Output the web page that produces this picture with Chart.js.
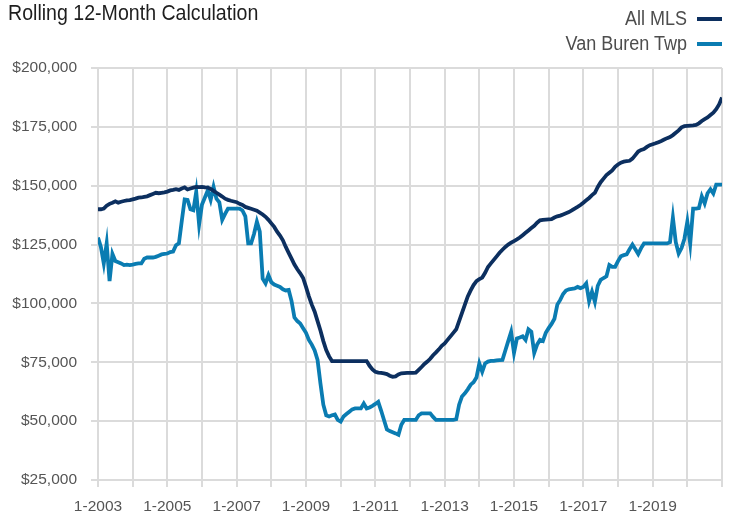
<!DOCTYPE html>
<html>
<head>
<meta charset="utf-8">
<script src="https://cdn.jsdelivr.net/npm/chart.js@4/dist/chart.umd.min.js"></script>
<style>
  html, body { margin: 0; padding: 0; background: #fff; }
  #wrap { position: relative; width: 732px; height: 515px; font-family: "Liberation Sans", Arial, sans-serif; }
  #title { position: absolute; left: 8px; top: 0px; font-size: 22px; color: #1e1e1e; white-space: nowrap; transform: scaleX(0.89); transform-origin: left center; }
  .legend-row { position: absolute; right: 10px; font-size: 20px; color: #4d4d4d; white-space: nowrap; display: flex; align-items: center; }
  .legend-row .lbl { display: inline-block; transform: scaleX(0.9); transform-origin: right center; }
  .legend-row .swatch { display: inline-block; width: 25px; height: 4px; margin-left: 10px; }
  canvas { position: absolute; left: 0; top: 0; }
</style>
</head>
<body>
<div id="wrap">
  <canvas id="chart" width="732" height="515"></canvas>
  <div id="title">Rolling 12-Month Calculation</div>
  <div class="legend-row" id="leg0" style="top: 7px;"><span class="lbl"></span><span class="swatch"></span></div>
  <div class="legend-row" id="leg1" style="top: 32px;"><span class="lbl"></span><span class="swatch"></span></div>
</div>
<script>
// monthly rolling 12-month median price, in $ thousands, 1-2003 .. 1-2021
const allMls = [
  140.0, 140.0, 140.3, 141.5, 142.3, 142.8, 143.4, 142.8, 143.2, 143.5, 143.8, 143.9,
  144.2, 144.5, 144.9, 145.0, 145.3, 145.5, 146.0, 146.5, 147.0, 146.8, 147.0, 147.2,
  147.5, 148.0, 148.2, 148.5, 148.2, 148.8, 149.3, 148.4, 148.8, 149.2, 149.5, 149.4,
  149.5, 149.3, 149.2, 148.6, 147.8, 147.0, 146.2, 145.4, 144.5, 144.0, 143.6, 143.3,
  143.0, 142.3, 141.8, 141.0, 140.6, 140.2, 139.8, 139.4, 138.6, 137.8, 136.8, 135.5,
  134.0, 132.5, 130.5, 128.8, 126.8, 124.0, 121.5, 119.0, 116.5, 114.5, 112.8, 110.8,
  107.0, 103.0, 99.5, 96.5, 92.5, 88.5, 84.0, 80.2, 77.5, 75.5, 75.5, 75.5,
  75.5, 75.5, 75.5, 75.5, 75.5, 75.5, 75.5, 75.5, 75.5, 75.5, 73.5, 72.0,
  71.0, 70.6, 70.5, 70.3, 70.0, 69.3, 68.8, 69.0, 69.8, 70.3, 70.4, 70.5,
  70.5, 70.5, 70.6, 71.8, 73.0, 74.3, 75.3, 76.5, 78.0, 79.2, 80.5, 82.0,
  83.0, 84.5, 86.0, 87.5, 89.0, 92.5, 96.0, 99.5, 103.0, 105.5, 107.8, 109.5,
  110.3, 111.0, 113.0, 115.5, 117.0, 118.5, 120.0, 121.5, 122.8, 124.0, 125.0, 125.8,
  126.5, 127.2, 128.0, 129.0, 130.0, 131.0, 132.0, 133.0, 134.3, 135.3, 135.5, 135.6,
  135.7, 135.8, 136.5, 137.0, 137.3, 137.8, 138.3, 138.8, 139.5, 140.3, 141.0, 141.8,
  142.8, 143.8, 144.8, 146.0, 147.0, 149.5, 151.5, 153.0, 154.5, 155.5, 156.5, 158.0,
  159.0, 159.8, 160.2, 160.4, 160.6, 161.5, 163.0, 164.5, 165.2, 165.6, 166.5, 167.2,
  167.6, 168.0, 168.5, 169.0, 169.6, 170.2, 170.7, 171.5, 172.5, 173.5, 174.8, 175.3,
  175.4, 175.5, 175.6, 175.8, 176.5, 177.5, 178.3, 179.0, 180.0, 181.0, 182.5, 184.5,
  187.5
];

const vanBuren = [
  128.0, 124.0, 117.0, 125.5, 109.5, 121.0, 118.0, 117.5, 117.0, 116.3, 116.5, 116.3,
  116.5, 116.8, 117.0, 117.0, 119.0, 119.5, 119.5, 119.5, 119.8, 120.3, 120.8, 121.0,
  121.2, 121.8, 122.0, 124.7, 125.5, 135.0, 144.2, 144.0, 140.0, 139.6, 147.4, 133.5,
  142.0, 145.0, 148.0, 144.0, 149.5, 144.5, 143.0, 135.5, 138.0, 140.3, 140.3, 140.3,
  140.3, 140.3, 139.5, 137.0, 125.5, 125.5, 129.5, 134.7, 130.5, 110.5, 108.5, 112.0,
  109.0, 108.0, 107.5, 107.0, 106.0, 105.5, 105.7, 101.0, 94.0, 92.5, 91.5, 89.5,
  87.5, 84.5, 82.5, 80.0, 76.0, 66.0, 57.0, 52.5, 52.0, 52.5, 52.8, 50.5,
  49.8, 52.0, 53.0, 54.0, 55.0, 55.4, 55.4, 55.4, 57.5, 55.4, 55.8, 56.5,
  57.3, 58.2, 54.5, 50.5, 46.5, 45.8, 45.3, 44.8, 44.2, 48.5, 50.5, 50.5,
  50.5, 50.5, 50.5, 52.5, 53.3, 53.3, 53.3, 53.3, 51.8, 50.5, 50.5, 50.5,
  50.5, 50.5, 50.5, 50.5, 50.8, 57.0, 60.5, 61.8, 63.5, 65.5, 66.5, 68.5,
  74.5, 71.0, 74.5, 75.3, 75.6, 75.6, 75.8, 75.9, 76.0, 80.0, 84.0, 87.9,
  79.0, 85.1, 85.5, 86.0, 84.5, 89.0, 88.0, 79.0, 82.5, 84.5, 84.0, 87.5,
  89.5, 91.3, 93.5, 99.5, 101.5, 104.0, 105.5, 106.0, 106.2, 106.4, 107.0, 106.5,
  107.0, 108.5, 101.0, 105.0, 100.7, 107.5, 110.0, 110.8, 111.5, 116.3, 115.5, 115.5,
  118.0, 120.0, 120.5, 120.8, 123.0, 125.0, 123.0, 121.0, 123.5, 125.5, 125.5, 125.5,
  125.5, 125.5, 125.5, 125.5, 125.5, 125.5, 126.0, 136.5, 126.0, 121.2, 123.5, 127.5,
  134.7, 125.3, 140.3, 140.3, 140.5, 145.5, 142.5, 146.8, 148.5, 146.7, 150.5, 150.5,
  150.5
];

const seriesNames = ["All MLS", "Van Buren Twp"];
const seriesColors = ["#0c2f5f", "#0a7cb2"];

// x tick labels, one every two years (gridlines every year)
const xTickLabels = ["1-2003", "1-2005", "1-2007", "1-2009", "1-2011", "1-2013", "1-2015", "1-2017", "1-2019"];

const TICK_FONT = { family: "'Liberation Sans', Arial, sans-serif", size: 15.5 };
const GRID = "#dbdbdb";

// legend (html)
[0, 1].forEach(i => {
  const row = document.getElementById("leg" + i);
  row.querySelector(".lbl").textContent = seriesNames[i];
  row.querySelector(".swatch").style.background = seriesColors[i];
});

const toPoints = arr => arr.map((v, i) => ({ x: i, y: v }));

new Chart(document.getElementById("chart").getContext("2d"), {
  type: "line",
  data: {
    datasets: [
      { label: seriesNames[0], data: toPoints(allMls), borderColor: seriesColors[0], borderWidth: 3.8, pointRadius: 0, tension: 0 },
      { label: seriesNames[1], data: toPoints(vanBuren), borderColor: seriesColors[1], borderWidth: 3.8, pointRadius: 0, tension: 0 }
    ]
  },
  options: {
    responsive: false,
    animation: false,
    layout: { padding: { top: 68, right: 10, left: 0, bottom: 0 } },
    plugins: { legend: { display: false }, tooltip: { enabled: false } },
    scales: {
      x: {
        type: "linear",
        min: 0,
        max: 216,
        afterFit: axis => { axis.height = 35; },
        afterBuildTicks: axis => {
          axis.ticks = [];
          for (let v = 0; v <= 216; v += 12) axis.ticks.push({ value: v });
        },
        ticks: {
          autoSkip: false,
          maxRotation: 0,
          padding: 10,
          color: "#555",
          font: TICK_FONT,
          callback: v => (v % 24 === 0 ? xTickLabels[v / 24] || "" : "")
        },
        grid: { color: GRID, lineWidth: 2, tickLength: 7 },
        border: { color: GRID, width: 2 }
      },
      y: {
        min: 25,
        max: 200,
        afterFit: axis => { axis.width = 98; },
        ticks: {
          stepSize: 25,
          padding: 14,
          color: "#555",
          font: TICK_FONT,
          callback: v => "$" + (v * 1000).toLocaleString("en-US")
        },
        grid: { color: GRID, lineWidth: 2, tickLength: 7 },
        border: { color: GRID, width: 2 }
      }
    }
  }
});
</script>
</body>
</html>
